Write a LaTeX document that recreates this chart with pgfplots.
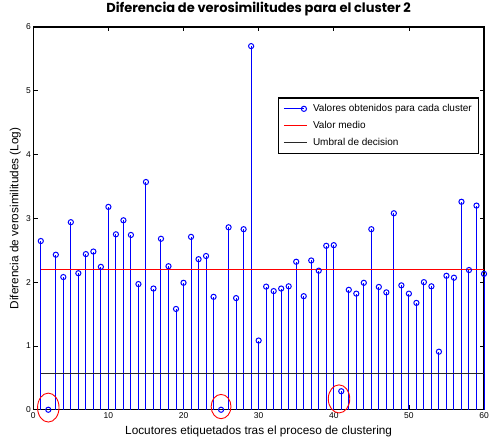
\documentclass[border=0pt]{standalone}
\usepackage{pgfplots}
\pgfplotsset{compat=1.18}
\usepackage{fontspec}
\setmainfont{Liberation Sans}
\newfontfamily\titlefont{Poppins}
\definecolor{mblue}{RGB}{0,0,255}
\definecolor{mred}{RGB}{255,0,0}
\definecolor{mgray}{RGB}{40,40,40}
\begin{document}
\begin{tikzpicture}
\begin{axis}[
 name=ax, at={(0pt,0pt)}, anchor=south west,
 scale only axis, width=451pt, height=383pt,
 xmin=0,xmax=60,ymin=0,ymax=6,
 xtick={0,10,...,60}, ytick={0,1,...,6},
 tick align=inside, major tick length=4.5pt,
 axis line style={line width=1.1pt},
 tick style={black, line width=0.7pt},
 ticklabel style={font=\fontsize{8.5}{9}\selectfont},
 xticklabel style={yshift=1pt},
 yticklabel style={xshift=1pt},
 /pgf/number format/assume math mode=true,
 title={\titlefont\bfseries Diferencia de verosimilitudes para el cluster 2},
 title style={font=\fontsize{13}{15}\selectfont, at={(axis description cs:0.5,1.0222)}, anchor=base, inner sep=0pt},
 xlabel={Locutores etiquetados tras el proceso de clustering},
 ylabel={Diferencia de verosimilitudes (Log)},
 label style={font=\fontsize{11.8}{13}\selectfont},
 xlabel style={at={(axis description cs:0.5,-0.0418)}, anchor=north, inner sep=0pt},
 ylabel style={at={(axis description cs:-0.0399,0.5)}, anchor=center, inner sep=0pt},
 clip=false,
 legend style={at={(0.9895,0.816)}, anchor=north east, font=\fontsize{10}{12}\selectfont, draw=black, line width=1.1pt, row sep=4pt, column sep=4pt, inner xsep=5pt, inner ysep=4.5pt},
 legend cell align=left,
]
\addplot[ycomb, draw=mblue, color=mblue, line width=1pt, mark=o, mark size=2.6pt, mark options={draw=mblue, line width=1pt},
  legend image code/.code={\draw[draw=mblue, line width=1pt] (0pt,0pt) -- (20pt,0pt); \draw[draw=mblue, line width=1pt] (20pt,0pt) circle (2.6pt);}]
 coordinates {
 (1,2.645) (2,0) (3,2.43) (4,2.08) (5,2.94) (6,2.14) (7,2.44) (8,2.48) (9,2.24) (10,3.18)
 (11,2.75) (12,2.97) (13,2.74) (14,1.97) (15,3.57) (16,1.90) (17,2.68) (18,2.25) (19,1.58) (20,1.99)
 (21,2.71) (22,2.36) (23,2.41) (24,1.77) (25,0) (26,2.86) (27,1.75) (28,2.83) (29,5.70) (30,1.085)
 (31,1.93) (32,1.86) (33,1.90) (34,1.935) (35,2.32) (36,1.78) (37,2.34) (38,2.18) (39,2.57) (40,2.58)
 (41,0.29) (42,1.88) (43,1.82) (44,1.99) (45,2.83) (46,1.925) (47,1.84) (48,3.08) (49,1.95) (50,1.82)
 (51,1.675) (52,2.00) (53,1.935) (54,0.91) (55,2.10) (56,2.07) (57,3.26) (58,2.19) (59,3.20) (60,2.13)
 };
\addlegendentry{Valores obtenidos para cada cluster}
\addplot[draw=mred, color=mred, line width=1pt, legend image code/.code={\draw[draw=mred, line width=1pt] (0pt,0pt) -- (22.6pt,0pt);}]
 coordinates {(1,2.196) (60,2.196)};
\addlegendentry{Valor medio}
\addplot[draw=mgray, color=mgray, line width=1pt, legend image code/.code={\draw[draw=mgray, line width=1pt] (0pt,0pt) -- (22.6pt,0pt);}]
 coordinates {(1,0.563) (60,0.563)};
\addlegendentry{Umbral de decision}
\draw[mred, line width=0.9pt] (axis cs:2,0.034) ellipse [x radius=1.43, y radius=0.227];
\draw[mred, line width=0.9pt] (axis cs:25,0.05) ellipse [x radius=1.32, y radius=0.19];
\draw[mred, line width=0.9pt] (axis cs:40.7,0.17) ellipse [x radius=1.43, y radius=0.22];
\end{axis}
\pgfresetboundingbox
\useasboundingbox ([shift={(-33.3pt,-31pt)}]ax.south west) rectangle ([shift={(6pt,27pt)}]ax.north east);
\end{tikzpicture}
\end{document}
